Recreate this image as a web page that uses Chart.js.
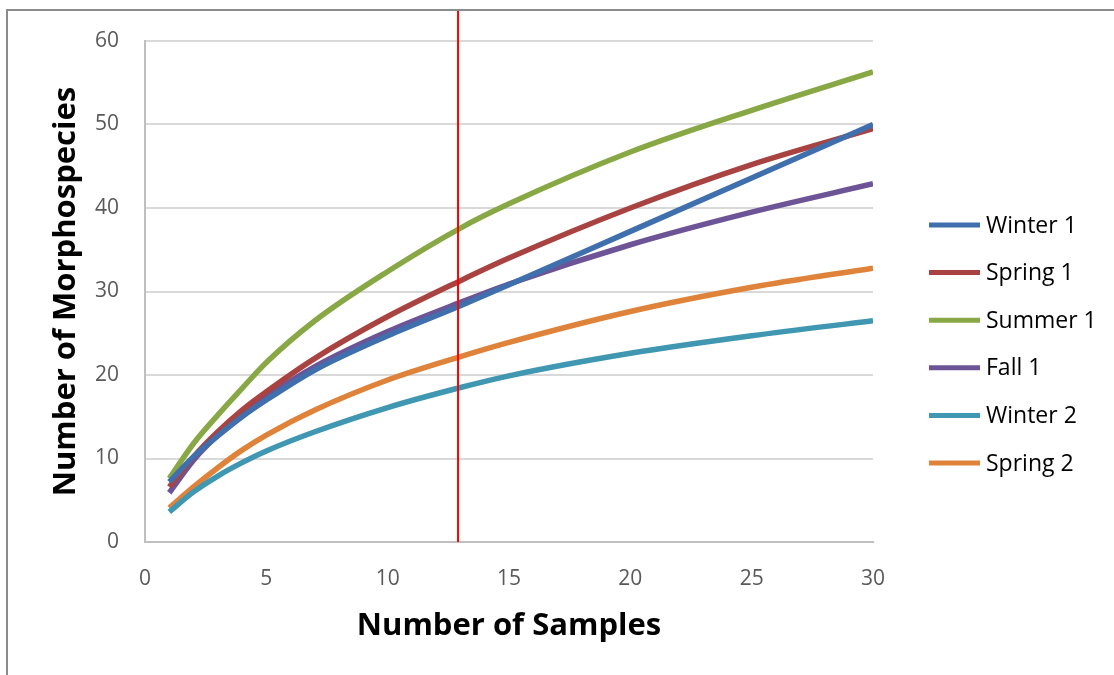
<!DOCTYPE html>
<html>
<head>
<meta charset="utf-8">
<script src="https://cdn.jsdelivr.net/npm/chart.js@4/dist/chart.umd.min.js"></script>
<style>
  html, body { margin: 0; padding: 0; background: #fff; overflow: hidden; }
  #frame { position: absolute; left: 6px; top: 9px; width: 1200px; height: 800px; border: 2px solid #8c8c8c; }
  #wrap { position: absolute; left: 0; top: 0; width: 1114px; height: 675px; }
</style>
</head>
<body>
<div id="frame"></div>
<div id="wrap"><canvas id="myChart" width="1114" height="675"></canvas></div>
<script>
(function () {
  'use strict';

  // sample numbers where the curves were read
  const samples = [1, 2, 3, 4, 5, 7, 10, 13, 15, 20, 25, 30];

  const seriesNames = ['Winter 1', 'Spring 1', 'Summer 1', 'Fall 1', 'Winter 2', 'Spring 2'];
  const seriesColors = ['#3f6fad', '#a94341', '#88a845', '#6d5497', '#3f97b1', '#e0833a'];

  const winter1 = [7.2, 10.2, 12.7, 15.0, 17.0, 20.6, 24.7, 28.3, 30.8, 37.2, 43.6, 50.0];
  const spring1 = [6.6, 10.2, 13.2, 15.8, 18.0, 22.0, 27.0, 31.3, 34.0, 40.0, 45.2, 49.5];
  const summer1 = [7.6, 11.8, 15.2, 18.4, 21.5, 26.5, 32.4, 37.6, 40.5, 46.7, 51.7, 56.3];
  const fall1 = [5.9, 9.8, 12.8, 15.3, 17.4, 21.0, 25.2, 28.7, 30.9, 35.6, 39.5, 42.9];
  const winter2 = [3.6, 6.0, 7.9, 9.5, 10.9, 13.2, 16.1, 18.5, 19.9, 22.6, 24.7, 26.5];
  const spring2 = [4.1, 6.6, 8.9, 11.0, 12.8, 15.8, 19.4, 22.2, 23.9, 27.6, 30.5, 32.8];

  const allSeries = [winter1, spring1, summer1, fall1, winter2, spring2];

  const xTicks = [0, 5, 10, 15, 20, 25, 30];
  const yTicks = [0, 10, 20, 30, 40, 50, 60];
  const markerX = 12.9;

  const tickFont = { family: 'Open Sans', size: 21 };
  const titleFont = { family: 'Open Sans', size: 31, weight: 'bold' };

  const datasets = allSeries.map((vals, i) => ({
    label: seriesNames[i],
    data: vals.map((v, j) => ({ x: samples[j], y: v })),
    borderColor: seriesColors[i],
    backgroundColor: seriesColors[i],
    borderWidth: 5.5,
    pointRadius: 0,
    cubicInterpolationMode: 'monotone',
    fill: false,
  }));

  // red vertical marker line
  const markerPlugin = {
    id: 'marker',
    afterDatasetsDraw(chart) {
      const ctx = chart.ctx;
      const px = chart.scales.x.getPixelForValue(markerX);
      ctx.save();
      ctx.strokeStyle = '#ff0000';
      ctx.lineWidth = 2;
      ctx.beginPath();
      ctx.moveTo(px, 11);
      ctx.lineTo(px, chart.chartArea.bottom);
      ctx.stroke();
      ctx.restore();
    },
  };

  // legend on the right
  const legendPlugin = {
    id: 'sideLegend',
    afterDraw(chart) {
      const ctx = chart.ctx;
      ctx.save();
      ctx.font = '23px "Open Sans"';
      ctx.textBaseline = 'middle';
      ctx.textAlign = 'left';
      seriesNames.forEach((name, i) => {
        const y = 225 + i * 47.6;
        ctx.strokeStyle = seriesColors[i];
        ctx.lineWidth = 5;
        ctx.beginPath();
        ctx.moveTo(929, y);
        ctx.lineTo(980, y);
        ctx.stroke();
        ctx.fillStyle = '#000';
        ctx.fillText(name, 986, y + 1);
      });
      ctx.restore();
    },
  };

  const ctx = document.getElementById('myChart').getContext('2d');
  new Chart(ctx, {
    type: 'line',
    data: { datasets },
    options: {
      responsive: false,
      animation: false,
      layout: { padding: { top: 41, right: 241, left: 0, bottom: 0 } },
      plugins: { legend: { display: false }, tooltip: { enabled: false } },
      scales: {
        x: {
          type: 'linear',
          min: 0,
          max: 30,
          afterFit(scale) { scale.height = 133; },
          afterBuildTicks(scale) { scale.ticks = xTicks.map((v) => ({ value: v })); },
          grid: { display: true, drawOnChartArea: false, drawTicks: false },
          border: { display: true, color: '#bfbfbf', width: 2 },
          ticks: { font: tickFont, color: '#595959', padding: 24, maxRotation: 0 },
          title: {
            display: true,
            text: 'Number of Samples',
            font: titleFont,
            color: '#000',
            padding: { top: 0, bottom: 30 },
          },
        },
        y: {
          min: 0,
          max: 60,
          afterFit(scale) { scale.width = 145; },
          afterBuildTicks(scale) { scale.ticks = yTicks.map((v) => ({ value: v })); },
          grid: { color: '#d9d9d9', lineWidth: 2, drawTicks: false },
          border: { display: true, color: '#bfbfbf', width: 2 },
          ticks: { font: tickFont, color: '#595959', padding: 26 },
          title: {
            display: true,
            text: 'Number of Morphospecies',
            font: titleFont,
            color: '#000',
            padding: { top: 48, bottom: 0 },
          },
        },
      },
    },
    plugins: [markerPlugin, legendPlugin],
  });
})();
</script>
</body>
</html>
